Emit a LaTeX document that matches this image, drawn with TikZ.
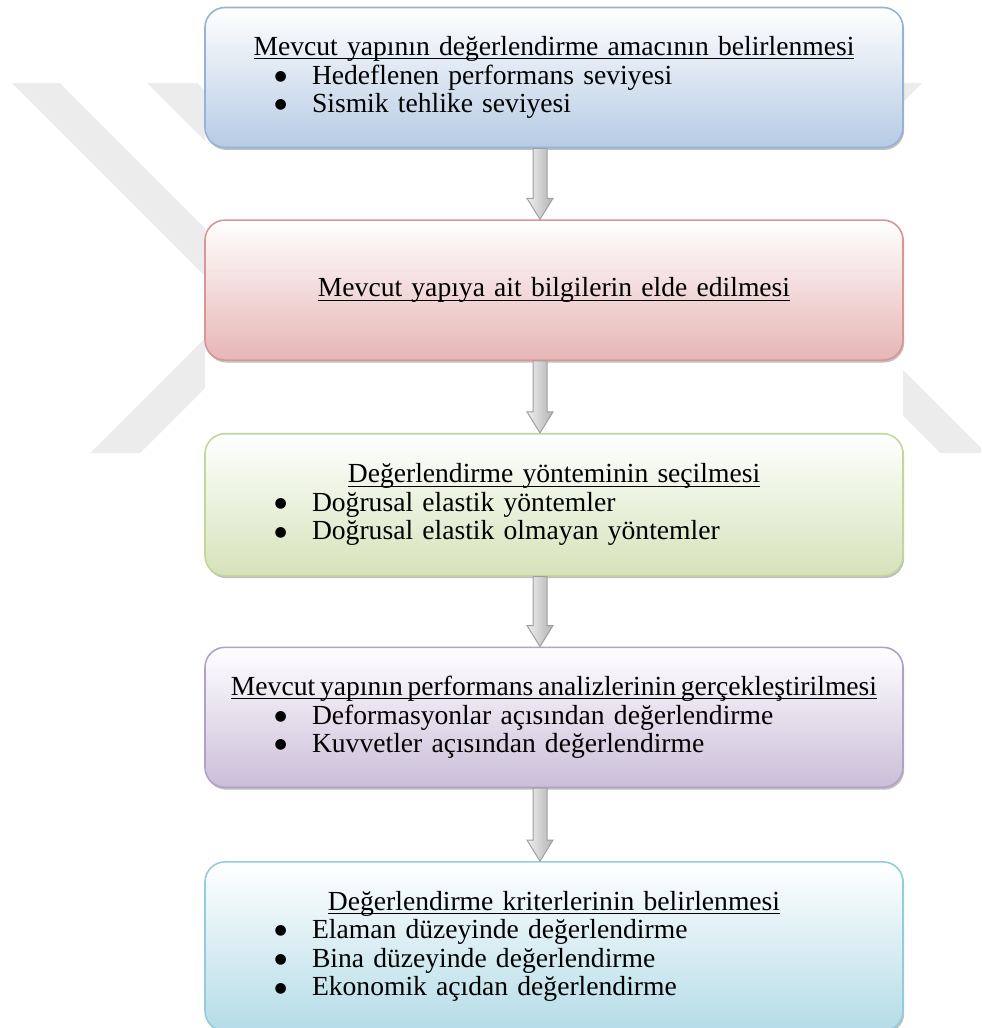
\documentclass[tikz,border=0pt]{standalone}
\usepackage{fontspec}
\setmainfont{Liberation Serif}
\newfontfamily\dotfont{DejaVu Sans}
\usepackage{tikz}
\usetikzlibrary{shapes,arrows,positioning,calc,shadows}
\usepackage{xcolor}

\definecolor{blueline}{RGB}{149,179,215}
\definecolor{bluefill}{RGB}{182,203,228}
\definecolor{redline}{RGB}{217,150,148}
\definecolor{redfill}{RGB}{230,182,181}
\definecolor{greenline}{RGB}{195,214,155}
\definecolor{greenfill}{RGB}{213,227,186}
\definecolor{purpleline}{RGB}{178,161,199}
\definecolor{purplefill}{RGB}{202,190,217}
\definecolor{aqualine}{RGB}{147,205,221}
\definecolor{aquafill}{RGB}{180,220,231}
\definecolor{logogray}{RGB}{236,236,236}

\newcommand{\titleline}[1]{\setbox0\hbox{#1}\rlap{\rule[-2pt]{\wd0}{0.5pt}}\box0}
\newcommand{\steptitle}[1]{\centerline{\titleline{#1}}}
\newcommand{\stepitem}[1]{\par\noindent\hspace*{34.8pt}\makebox[18.7pt][l]{\raisebox{1.9pt}{\dotfont\fontsize{7}{8}\selectfont ●}}#1}
\newcommand{\flowarrow}[2]{%
  \coordinate (a) at ($(#1.south)+(-14,0)$);
  \coordinate (b) at ($(#2.north)+(-14,0)$);
  \path[arrowbody] ($(a)+(-7,0)$) -- ($(b)+(-7,-21)$) -- ($(b)+(-13,-21)$) -- (b)
    -- ($(b)+(13,-21)$) -- ($(b)+(7,-21)$) -- ($(a)+(7,0)$) -- cycle;}

\begin{document}
\begin{tikzpicture}[
    x=0.5pt, y=-0.5pt,
    stepbox/.style={rectangle, rounded corners=10pt, draw=#1line, line width=0.8pt, top color=white, bottom color=#1fill,
      drop shadow={shadow xshift=0.6pt, shadow yshift=-1.2pt, opacity=0.25, fill=black},
      minimum width=349pt, minimum height=70pt, text width=349pt, inner xsep=0pt, align=left,
      font=\fontsize{13.8}{14.3}\selectfont},
    arrowbody/.style={draw=gray!75, line width=0.5pt, left color=gray!12, right color=gray!60},
    logo/.style={fill=logogray}
]
\useasboundingbox (0,0) rectangle (981,1028);

% Watermark
\begin{scope}
\clip (0,0) rectangle (205,1028) (903,0) rectangle (981,1028);
\path[logo] (12,83) -- (60,83) -- (300,323) -- (252,323) -- cycle;
\path[logo] (147,83) -- (197,83) -- (257,143) -- (207,143) -- cycle;
\path[logo] (90,453) -- (140,453) -- (260,333) -- (210,333) -- cycle;
\path[logo] (874,83) -- (922,83) -- (880,125) -- (832,125) -- cycle;
\path[logo] (850,363) -- (896,363) -- (986,453) -- (940,453) -- cycle;
\end{scope}

% Steps
\node (goal) [stepbox=blue] at (554,77.5) {\steptitle{Mevcut yapının değerlendirme amacının belirlenmesi}
  \stepitem{Hedeflenen performans seviyesi}
  \stepitem{Sismik tehlike seviyesi}};
\node (data) [stepbox=red, below=35.5pt of goal] {\steptitle{Mevcut yapıya ait bilgilerin elde edilmesi}};
\node (method) [stepbox=green, minimum height=71pt, below=36pt of data] {\steptitle{Değerlendirme yönteminin seçilmesi}
  \stepitem{Doğrusal elastik yöntemler}
  \stepitem{Doğrusal elastik olmayan yöntemler}};
\node (analysis) [stepbox=purple, below=35pt of method] {\steptitle{\spaceskip=2.4pt Mevcut yapının performans analizlerinin gerçekleştirilmesi}
  \stepitem{Deformasyonlar açısından değerlendirme}
  \stepitem{Kuvvetler açısından değerlendirme}};
\node (criteria) [stepbox=aqua, minimum height=84.5pt, below=36.5pt of analysis] {\steptitle{Değerlendirme kriterlerinin belirlenmesi}
  \stepitem{Elaman düzeyinde değerlendirme}
  \stepitem{Bina düzeyinde değerlendirme}
  \stepitem{Ekonomik açıdan değerlendirme}};

% Arrows
\flowarrow{goal}{data}
\flowarrow{data}{method}
\flowarrow{method}{analysis}
\flowarrow{analysis}{criteria}

\end{tikzpicture}
\end{document}
